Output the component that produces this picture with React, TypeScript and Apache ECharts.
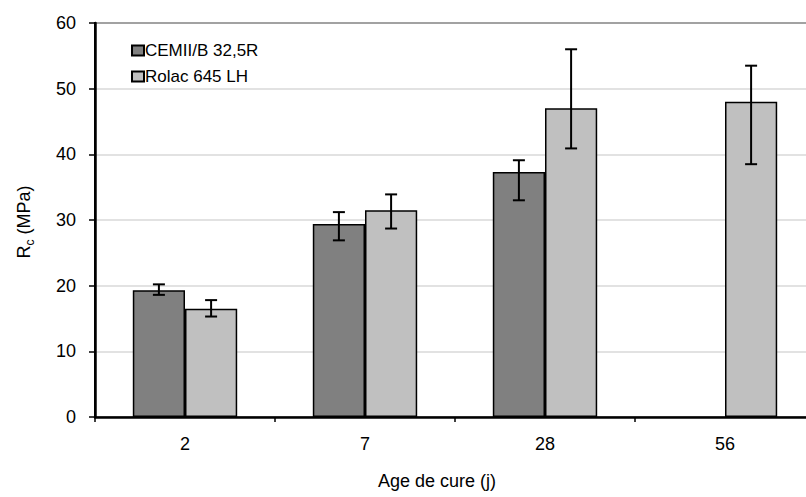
import React, { useEffect, useRef } from "react";
import * as echarts from "echarts";

const categories = ["2", "7", "28", "56"];
const seriesNames = ["CEMII/B 32,5R", "Rolac 645 LH"];
const cemValues: (number | null)[] = [19.3, 29.4, 37.3, null];
const cemLow: (number | null)[] = [18.6, 26.9, 33.0, null];
const cemHigh: (number | null)[] = [20.2, 31.2, 39.1, null];
const rolacValues = [16.5, 31.5, 47.0, 48.0];
const rolacLow = [15.3, 28.7, 40.9, 38.5];
const rolacHigh = [17.8, 33.9, 56.0, 53.5];
const yTicks = { min: 0, max: 60, interval: 10 };

const FONT = "Liberation Sans, Arial, sans-serif";
const GAP = 0.42;

function errorData(low: (number | null)[], high: (number | null)[]) {
  const out: number[][] = [];
  low.forEach((l, i) => {
    const h = high[i];
    if (l != null && h != null) out.push([i, l, h]);
  });
  return out;
}

function makeRender(side: number) {
  return (params: any, api: any) => {
    const i = api.value(0);
    const lo = api.coord([i, api.value(1)]);
    const hi = api.coord([i, api.value(2)]);
    const band = api.size([1, 0])[0];
    const bw = (band * (1 - GAP)) / 2;
    const x = lo[0] + (side * bw) / 2;
    const cap = 6;
    const style = { stroke: "#000", lineWidth: 2 };
    return {
      type: "group",
      children: [
        { type: "line", shape: { x1: x, y1: lo[1], x2: x, y2: hi[1] }, style },
        { type: "line", shape: { x1: x - cap, y1: lo[1], x2: x + cap, y2: lo[1] }, style },
        { type: "line", shape: { x1: x - cap, y1: hi[1], x2: x + cap, y2: hi[1] }, style },
      ],
    };
  };
}

export default function App() {
  const ref = useRef<HTMLDivElement>(null);
  useEffect(() => {
    if (!ref.current) return;
    const chart = echarts.init(ref.current, null, { renderer: "svg" });
    chart.setOption({
      animation: false,
      backgroundColor: "#fff",
      textStyle: { fontFamily: FONT },
      grid: {
        left: 95,
        top: 23,
        right: 15,
        bottom: 80,
        show: true,
        borderColor: "#000",
        borderWidth: 2,
        backgroundColor: "transparent",
      },
      legend: {
        orient: "vertical",
        left: 126,
        top: 37,
        itemGap: 9,
        itemWidth: 12,
        itemHeight: 10,
        selectedMode: false,
        data: seriesNames.map((n) => ({ name: n, icon: "rect" })),
        textStyle: { fontSize: 17, color: "#000", fontFamily: FONT, padding: [0, 0, 0, -4] },
      },
      xAxis: {
        type: "category",
        data: categories,
        boundaryGap: true,
        axisLine: { lineStyle: { color: "#000", width: 2.5 } },
        axisTick: { show: true, interval: 0, length: 5, lineStyle: { color: "#000", width: 1.5 } },
        axisLabel: { fontSize: 18, color: "#000", margin: 18, fontFamily: FONT },
        splitLine: { show: false },
      },
      yAxis: {
        type: "value",
        min: yTicks.min,
        max: yTicks.max,
        interval: yTicks.interval,
        axisLine: { show: true, lineStyle: { color: "#000", width: 2.5 } },
        axisTick: { show: true, length: 6, lineStyle: { color: "#000", width: 1.5 } },
        axisLabel: { fontSize: 18, color: "#000", margin: 19, fontFamily: FONT },
        splitLine: { show: true, lineStyle: { color: "#d9d9d9", width: 1.5 } },
      },
      graphic: [
        {
          type: "text",
          x: 437,
          y: 481,
          style: {
            text: "Age de cure (j)",
            fontSize: 18,
            fontFamily: FONT,
            fill: "#000",
            align: "center",
            verticalAlign: "middle",
          },
        },
        {
          type: "text",
          x: 22,
          y: 222,
          rotation: Math.PI / 2,
          style: {
            text: "{a|R}{b|c}{a| (MPa)}",
            align: "center",
            verticalAlign: "middle",
            fill: "#000",
            rich: {
              a: { fontSize: 18, fontFamily: FONT, fill: "#000", lineHeight: 22, verticalAlign: "bottom" },
              b: { fontSize: 12, fontFamily: FONT, fill: "#000", lineHeight: 22, verticalAlign: "bottom", padding: [0, 0, -3, 0] },
            },
          },
        },
      ],
      series: [
        {
          name: seriesNames[0],
          type: "bar",
          data: cemValues,
          barGap: "0%",
          barCategoryGap: GAP * 100 + "%",
          itemStyle: { color: "#808080", borderColor: "#000", borderWidth: 1.5 },
          z: 2,
        },
        {
          name: seriesNames[1],
          type: "bar",
          data: rolacValues,
          barGap: "0%",
          barCategoryGap: GAP * 100 + "%",
          itemStyle: { color: "#c0c0c0", borderColor: "#000", borderWidth: 1.5 },
          z: 2,
        },
        {
          type: "custom",
          renderItem: makeRender(-1),
          data: errorData(cemLow, cemHigh),
          encode: { x: 0, y: [1, 2] },
          z: 5,
          silent: true,
        },
        {
          type: "custom",
          renderItem: makeRender(1),
          data: errorData(rolacLow, rolacHigh),
          encode: { x: 0, y: [1, 2] },
          z: 5,
          silent: true,
        },
      ],
    });
    return () => chart.dispose();
  }, []);
  return (
    <div style={{ position: "fixed", left: 0, top: 0, width: 806, height: 497, overflow: "hidden", background: "#fff" }}>
      <div ref={ref} style={{ width: 830, height: 497 }} />
    </div>
  );
}
